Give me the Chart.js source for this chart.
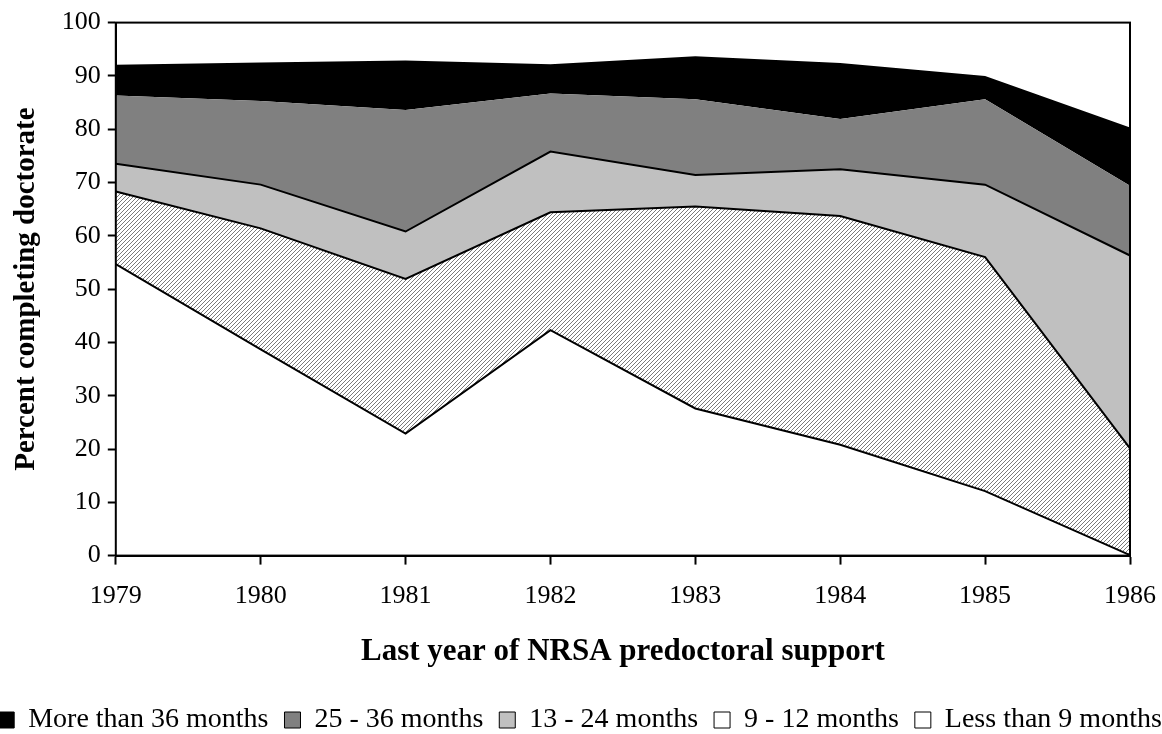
<!DOCTYPE html>
<html>
<head>
<meta charset="utf-8">
<script src="https://cdn.jsdelivr.net/npm/chart.js@4.4.0/dist/chart.umd.min.js"></script>
<style>
    html, body { margin: 0; padding: 0; background: #fff; overflow: hidden; }
    #wrap { position: absolute; left: -70px; top: 0; width: 1300px; height: 734px; }
</style>
</head>
<body>
<div id="wrap"><canvas id="doctorateChart"></canvas></div>
<script>
const years = ['1979', '1980', '1981', '1982', '1983', '1984', '1985', '1986'];
const lessThan9 = [54.7, 38.7, 22.9, 42.3, 27.6, 20.8, 12.1, 0.1];
const nineTo12 = [13.6, 22.7, 29.0, 22.1, 37.9, 42.9, 43.9, 20.0];
const thirteenTo24 = [5.2, 8.2, 8.9, 11.4, 5.9, 8.8, 13.6, 36.2];
const twentyFiveTo36 = [12.8, 15.7, 22.8, 10.9, 14.2, 9.4, 16.0, 13.1];
const moreThan36 = [5.8, 7.2, 9.3, 5.5, 8.1, 10.5, 4.4, 10.9];

const serif = '"Liberation Serif", "Times New Roman", serif';

// diagonal hatch for the 9 - 12 months band
function hatch() {
    const tile = document.createElement('canvas');
    tile.width = 4;
    tile.height = 4;
    const c = tile.getContext('2d');
    c.fillStyle = '#fff';
    c.fillRect(0, 0, 4, 4);
    c.fillStyle = '#7a7a7a';
    for (let i = 0; i < 4; i++) {
        c.fillRect(i, 3 - i, 1, 1);
    }
    return c.createPattern(tile, 'repeat');
}

// box around the plot area (top and right edges too)
const frame = {
    id: 'frame',
    afterDatasetsDraw(chart) {
        const a = chart.chartArea;
        const ctx = chart.ctx;
        ctx.save();
        ctx.strokeStyle = '#000';
        ctx.lineWidth = 2;
        ctx.strokeRect(a.left, a.top, a.right - a.left, a.bottom - a.top);
        ctx.restore();
    }
};

const legendFill = {
    'Less than 9 months': '#fff',
    '9 - 12 months': '#fff'
};

new Chart(document.getElementById('doctorateChart'), {
    type: 'line',
    plugins: [frame],
    data: {
        labels: years,
        datasets: [{
            label: 'Less than 9 months',
            data: lessThan9,
            backgroundColor: '#fff',
            borderColor: '#000',
            borderWidth: 2,
            fill: 'origin'
        }, {
            label: '9 - 12 months',
            data: nineTo12,
            backgroundColor: hatch(),
            borderColor: '#000',
            borderWidth: 2,
            fill: '-1'
        }, {
            label: '13 - 24 months',
            data: thirteenTo24,
            backgroundColor: '#c0c0c0',
            borderColor: '#000',
            borderWidth: 2,
            fill: '-1'
        }, {
            label: '25 - 36 months',
            data: twentyFiveTo36,
            backgroundColor: '#808080',
            borderColor: '#808080',
            borderWidth: 0,
            fill: '-1'
        }, {
            label: 'More than 36 months',
            data: moreThan36,
            backgroundColor: '#000',
            borderColor: '#000',
            borderWidth: 0,
            fill: '-1'
        }]
    },
    options: {
        responsive: true,
        maintainAspectRatio: false,
        animation: false,
        elements: {
            point: { radius: 0 },
            line: { tension: 0 }
        },
        layout: {
            padding: { top: 0, right: 0, left: 0, bottom: -10 }
        },
        scales: {
            x: {
                offset: false,
                grid: {
                    drawOnChartArea: false,
                    color: '#000',
                    tickLength: 9,
                    tickWidth: 2
                },
                border: { color: '#000', width: 2 },
                ticks: {
                    color: '#000',
                    padding: 16,
                    maxRotation: 0,
                    font: { family: serif, size: 26 }
                },
                title: {
                    display: true,
                    text: 'Last year of NRSA predoctoral support',
                    color: '#000',
                    padding: { top: 6, bottom: 19 },
                    font: { family: serif, size: 31, weight: 'bold' }
                }
            },
            y: {
                stacked: true,
                min: 0,
                max: 100,
                ticks: {
                    stepSize: 10,
                    color: '#000',
                    padding: 7,
                    font: { family: serif, size: 26 }
                },
                grid: {
                    drawOnChartArea: false,
                    color: '#000',
                    tickLength: 8,
                    tickWidth: 2
                },
                border: { color: '#000', width: 2 },
                title: {
                    display: true,
                    text: 'Percent completing doctorate',
                    color: '#000',
                    padding: { top: 79, bottom: 11 },
                    font: { family: serif, size: 29, weight: 'bold' }
                }
            },
            // empty axis on the right, only keeps room so the legend can run wide
            spacer: {
                position: 'right',
                display: true,
                grid: { display: false },
                border: { display: false },
                ticks: { display: false },
                afterFit(scale) {
                    scale.width = 100;
                }
            }
        },
        plugins: {
            tooltip: { enabled: false },
            legend: {
                position: 'bottom',
                reverse: true,
                labels: {
                    color: '#000',
                    boxWidth: 16,
                    boxHeight: 16,
                    padding: 16,
                    font: { family: serif, size: 28 },
                    generateLabels(chart) {
                        const items = Chart.defaults.plugins.legend.labels.generateLabels(chart);
                        return items.map(function(item) {
                            item.lineWidth = 1;
                            item.strokeStyle = '#000';
                            if (legendFill[item.text]) {
                                item.fillStyle = legendFill[item.text];
                            }
                            return item;
                        });
                    }
                }
            }
        }
    }
});
</script>
</body>
</html>
